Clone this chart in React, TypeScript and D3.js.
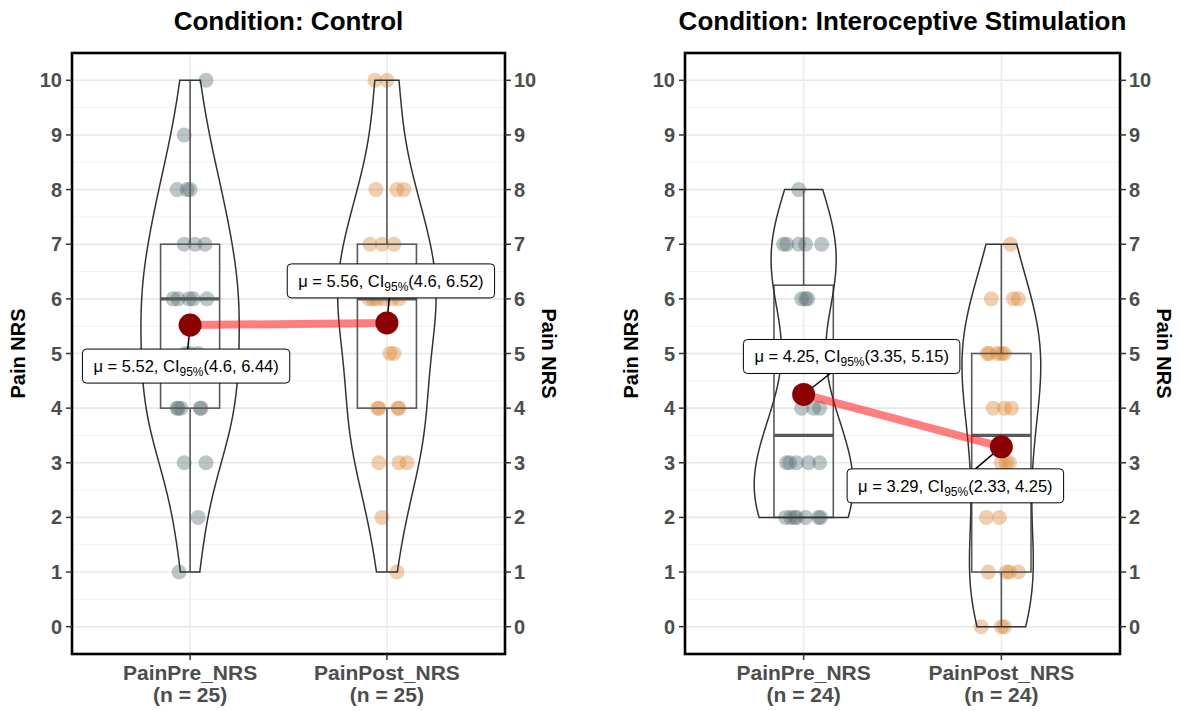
import React from "react";
import * as d3 from "d3";

// ---------- data ----------
const conditions = ["Control", "Interoceptive Stimulation"];
const categories = ["PainPre_NRS", "PainPost_NRS"];
const yTicks = [0, 1, 2, 3, 4, 5, 6, 7, 8, 9, 10];

const controlPre = [1, 2, 3, 3, 4, 4, 4, 4, 4, 5, 5, 5, 6, 6, 6, 6, 6, 7, 7, 7, 8, 8, 8, 9, 10];
const controlPreJitter = [-0.056, 0.041, -0.03, 0.081, -0.066, -0.046, 0.056, -0.061, 0.051, 0, -0.025, 0.041,
  -0.086, -0.061, 0.015, 0.086, -0.005, -0.03, 0.025, 0.076, -0.066, -0.015, 0, -0.03, 0.081];

const controlPost = [1, 2, 3, 3, 3, 4, 4, 4, 4, 5, 5, 6, 6, 6, 6, 6, 6, 7, 7, 7, 8, 8, 8, 10, 10];
const controlPostJitter = [0.051, -0.025, -0.041, 0.061, 0.102, -0.041, 0.061, -0.046, 0.056, 0.015, 0.036,
  -0.091, -0.051, -0.015, 0.025, 0.061, -0.071, -0.086, -0.025, 0.036, -0.056, 0.051, 0.086, -0.061, 0];

const interoPre = [2, 2, 2, 2, 2, 2, 2, 3, 3, 3, 3, 3, 4, 4, 4, 6, 6, 6, 7, 7, 7, 7, 7, 8];
const interoPreJitter = [-0.091, -0.066, -0.046, -0.036, 0.01, 0.076, 0.086, -0.086, -0.036, 0.025, 0.081, -0.071,
  -0.01, 0.051, 0.081, -0.01, 0.01, 0.02, -0.102, -0.086, -0.025, 0.01, 0.091, -0.025];

const interoPost = [0, 0, 0, 1, 1, 1, 1, 2, 2, 3, 3, 3, 4, 4, 4, 5, 5, 5, 5, 5, 6, 6, 6, 7];
const interoPostJitter = [-0.102, 0, 0.015, -0.066, 0.025, 0.041, 0.086, -0.076, -0.01, 0, 0.041, 0.025,
  -0.041, 0.015, 0.051, -0.071, -0.02, 0, 0.015, -0.061, -0.051, 0.061, 0.086, 0.046];

const ciLow = [[4.6, 4.6], [3.35, 2.33]];
const ciHigh = [[6.44, 6.52], [5.15, 4.25]];

const panelValues = [[controlPre, controlPost], [interoPre, interoPost]];
const panelJitter = [[controlPreJitter, controlPostJitter], [interoPreJitter, interoPostJitter]];

// ---------- layout / style ----------
const W = 1180, H = 711;
const PANELS = [{ left: 72, right: 505 }, { left: 685, right: 1120 }];
const TOP = 53, BOTTOM = 654;
const LABEL_OFFSETS = [[{ dx: -4, dy: 41 }, { dx: 4, dy: -42 }], [{ dx: 48, dy: -38 }, { dx: -46, dy: 39 }]];
const POINT_COLORS = ["#587073", "#dc8734"];
const FONT = "'Liberation Sans', Arial, sans-serif";
const LABEL_FS = 16.5, SUB_FS = 12;

let _ctx: CanvasRenderingContext2D | null = null;
function measure(text: string, size: number) {
  if (!_ctx) _ctx = document.createElement("canvas").getContext("2d");
  if (!_ctx) return text.length * size * 0.55;
  _ctx.font = `${size}px 'Liberation Sans', Arial, sans-serif`;
  return _ctx.measureText(text).width;
}

function bwNrd0(v: number[]) {
  const s = [...v].sort(d3.ascending);
  const sd = d3.deviation(s) as number;
  const iqr = (d3.quantileSorted(s, 0.75) as number) - (d3.quantileSorted(s, 0.25) as number);
  let lo = Math.min(sd, iqr / 1.34);
  if (!(lo > 0)) lo = sd || 1;
  return 0.9 * lo * Math.pow(s.length, -0.2);
}

function kde(v: number[]) {
  const bw = bwNrd0(v);
  const mn = d3.min(v) as number, mx = d3.max(v) as number;
  const N = 256;
  const out: [number, number][] = [];
  for (let i = 0; i < N; i++) {
    const y = mn + ((mx - mn) * i) / (N - 1);
    let s = 0;
    for (const x of v) {
      const z = (y - x) / bw;
      s += Math.exp(-0.5 * z * z);
    }
    out.push([y, s / (v.length * bw * Math.sqrt(2 * Math.PI))]);
  }
  return out;
}

function Panel({ pi }: { pi: number }) {
  const { left, right } = PANELS[pi];
  const x = d3.scaleLinear().domain([0.4, 2.6]).range([left, right]);
  const y = d3.scaleLinear().domain([-0.5, 10.5]).range([BOTTOM, TOP]);
  const unit = x(1) - x(0);
  const groups = panelValues[pi];
  const dens = groups.map(kde);
  const maxD = d3.max(dens.flat(), (d) => d[1]) as number;
  const means = groups.map((g) => d3.mean(g) as number);
  const minor = d3.range(-0.5, 10.51, 1);
  const cx = (left + right) / 2;

  return (
    <g>
      <text x={cx} y={30} textAnchor="middle" fontFamily={FONT} fontWeight="bold" fontSize={26} fill="#000">
        {`Condition: ${conditions[pi]}`}
      </text>
      {/* grid */}
      {minor.map((t) => (
        <line key={"mn" + t} x1={left} x2={right} y1={y(t)} y2={y(t)} stroke="#f1f1f1" strokeWidth={1} />
      ))}
      {yTicks.map((t) => (
        <line key={"mj" + t} x1={left} x2={right} y1={y(t)} y2={y(t)} stroke="#e8e8e8" strokeWidth={1.6} />
      ))}
      {categories.map((c, i) => (
        <line key={"vg" + c} x1={x(i + 1)} x2={x(i + 1)} y1={TOP} y2={BOTTOM} stroke="#ececec" strokeWidth={1.6} />
      ))}
      {/* points */}
      {groups.map((g, gi) =>
        g.map((v, k) => (
          <circle key={`p${gi}-${k}`} cx={x(gi + 1 + panelJitter[pi][gi][k])} cy={y(v)} r={7.5}
            fill={POINT_COLORS[gi]} fillOpacity={0.4} />
        ))
      )}
      {/* boxes */}
      {groups.map((g, gi) => {
        const s = [...g].sort(d3.ascending);
        const q1 = d3.quantileSorted(s, 0.25) as number;
        const med = d3.quantileSorted(s, 0.5) as number;
        const q3 = d3.quantileSorted(s, 0.75) as number;
        const iqr = q3 - q1;
        const lo = d3.min(s.filter((v) => v >= q1 - 1.5 * iqr)) as number;
        const hi = d3.max(s.filter((v) => v <= q3 + 1.5 * iqr)) as number;
        const xc = x(gi + 1);
        const hw = 0.15 * unit;
        return (
          <g key={"b" + gi} stroke="#595959" fill="none">
            <line x1={xc} x2={xc} y1={y(hi)} y2={y(q3)} strokeWidth={1.6} />
            <line x1={xc} x2={xc} y1={y(q1)} y2={y(lo)} strokeWidth={1.6} />
            <rect x={xc - hw} y={y(q3)} width={2 * hw} height={y(q1) - y(q3)} strokeWidth={1.6} />
            <line x1={xc - hw} x2={xc + hw} y1={y(med)} y2={y(med)} strokeWidth={3.2} />
          </g>
        );
      })}
      {/* violins */}
      {dens.map((d, gi) => {
        const xc = x(gi + 1);
        const hw = 0.25 * unit;
        const rightSide = d.map(([v, de]) => [xc + (de / maxD) * hw, y(v)] as [number, number]);
        const leftSide = d.slice().reverse().map(([v, de]) => [xc - (de / maxD) * hw, y(v)] as [number, number]);
        const path = d3.line()([...rightSide, ...leftSide]) + "Z";
        return <path key={"v" + gi} d={path} fill="none" stroke="#333" strokeWidth={1.5} />;
      })}
      {/* mean line */}
      <line x1={x(1)} y1={y(means[0])} x2={x(2)} y2={y(means[1])} stroke="#ff0000" strokeOpacity={0.5} strokeWidth={8} />
      {/* labels + connectors */}
      {means.map((m, gi) => {
        const px = x(gi + 1), py = y(m);
        const off = LABEL_OFFSETS[pi][gi];
        const t1 = `\u03bc = ${m.toFixed(2)}, CI`;
        const t2 = "95%";
        const t3 = `(${ciLow[pi][gi]}, ${ciHigh[pi][gi]})`;
        const tw = measure(t1, LABEL_FS) + measure(t2, SUB_FS) + measure(t3, LABEL_FS);
        const bw = tw + 22, bh = 34;
        const lx = px + off.dx, ly = py + off.dy;
        // connector end at box edge
        const ddx = lx - px, ddy = ly - py;
        const tEdge = Math.min(Math.abs((bw / 2) / (ddx || 1e-9)), Math.abs((bh / 2) / (ddy || 1e-9)));
        const ex = lx - ddx * tEdge, ey = ly - ddy * tEdge;
        return (
          <g key={"l" + gi}>
            <line x1={px} y1={py} x2={ex} y2={ey} stroke="#000" strokeWidth={1.5} />
            <circle cx={px} cy={py} r={11.5} fill="#8b0000" />
            <rect x={lx - bw / 2} y={ly - bh / 2} width={bw} height={bh} rx={4} fill="#fff" stroke="#000" strokeWidth={1} />
            <text x={lx} y={ly + 6} textAnchor="middle" fontFamily={FONT} fontSize={LABEL_FS} fill="#000">
              <tspan>{t1}</tspan>
              <tspan fontSize={SUB_FS} dy={4}>{t2}</tspan>
              <tspan fontSize={LABEL_FS} dy={-4}>{t3}</tspan>
            </text>
          </g>
        );
      })}
      {/* panel border */}
      <rect x={left} y={TOP} width={right - left} height={BOTTOM - TOP} fill="none" stroke="#000" strokeWidth={2.6} />
      {/* y axes */}
      {yTicks.map((t) => (
        <g key={"yt" + t} fontFamily={FONT} fontWeight="bold" fontSize={20} fill="#4d4d4d">
          <line x1={left - 6} x2={left} y1={y(t)} y2={y(t)} stroke="#333" strokeWidth={1.5} />
          <line x1={right} x2={right + 6} y1={y(t)} y2={y(t)} stroke="#333" strokeWidth={1.5} />
          <text x={left - 10} y={y(t) + 7} textAnchor="end">{t}</text>
          <text x={right + 9} y={y(t) + 7} textAnchor="start">{t}</text>
        </g>
      ))}
      <text transform={`translate(${left - 47},${(TOP + BOTTOM) / 2}) rotate(-90)`} textAnchor="middle"
        fontFamily={FONT} fontWeight="bold" fontSize={20} fill="#000">Pain NRS</text>
      <text transform={`translate(${right + 37},${(TOP + BOTTOM) / 2}) rotate(90)`} textAnchor="middle"
        fontFamily={FONT} fontWeight="bold" fontSize={20} fill="#000">Pain NRS</text>
      {/* x axis */}
      {categories.map((c, i) => (
        <g key={"xt" + c} fontFamily={FONT} fontWeight="bold" fontSize={21} fill="#4d4d4d">
          <line x1={x(i + 1)} x2={x(i + 1)} y1={BOTTOM} y2={BOTTOM + 6} stroke="#333" strokeWidth={1.5} />
          <text x={x(i + 1)} y={680} textAnchor="middle">{c}</text>
          <text x={x(i + 1)} y={702} textAnchor="middle">{`(n = ${groups[i].length})`}</text>
        </g>
      ))}
    </g>
  );
}

export default function App() {
  return (
    <svg width={W} height={H} style={{ position: "absolute", left: 0, top: 0, background: "#fff" }}>
      <rect width={W} height={H} fill="#fff" />
      {conditions.map((_, pi) => (
        <Panel key={pi} pi={pi} />
      ))}
    </svg>
  );
}
